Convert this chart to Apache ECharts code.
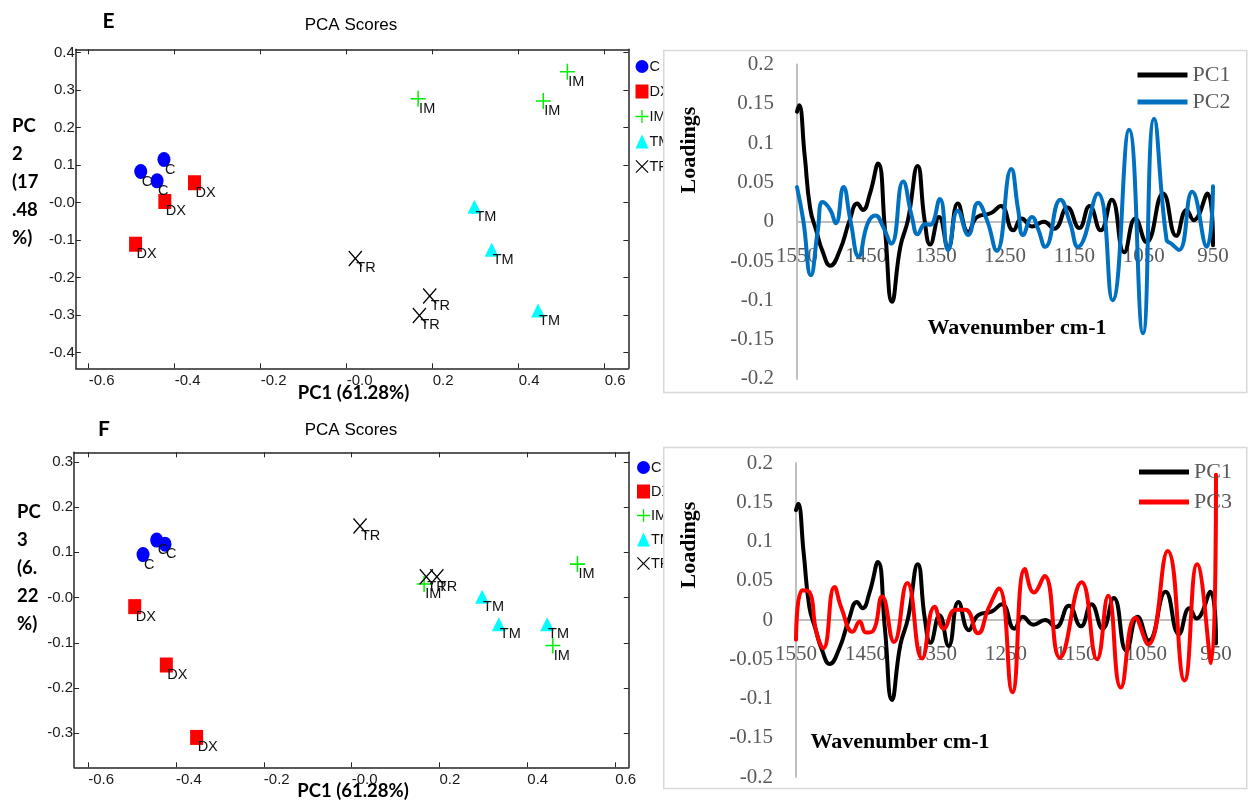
<!DOCTYPE html>
<html><head><meta charset="utf-8">
<script src="https://cdn.jsdelivr.net/npm/echarts@6/dist/echarts.min.js"></script>
<style>
html,body{margin:0;padding:0;background:#fff;width:1248px;height:802px;overflow:hidden;}
#left{position:absolute;left:0;top:0;width:663px;height:802px;}
#right{position:absolute;left:663px;top:0;width:585px;height:802px;}
</style></head><body>
<div id="left"></div><div id="right"></div>
<script>
// ---------------- DATA ----------------
const GROUPS = ['C', 'DX', 'IM', 'TM', 'TR'];

// Panel E: PCA scores PC1 vs PC2
const E_C  = [[-0.479, 0.083], [-0.425, 0.115], [-0.441, 0.058]];
const E_DX = [[-0.354, 0.053], [-0.423, 0.003], [-0.491, -0.111]];
const E_IM = [[0.166, 0.277], [0.457, 0.271], [0.513, 0.349]];
const E_TM = [[0.297, -0.011], [0.337, -0.126], [0.445, -0.288]];
const E_TR = [[0.020, -0.149], [0.193, -0.249], [0.169, -0.301]];

// Panel F: PCA scores PC1 vs PC3
const F_C  = [[-0.475, 0.095], [-0.444, 0.127], [-0.425, 0.118]];
const F_DX = [[-0.494, -0.020], [-0.422, -0.149], [-0.353, -0.309]];
const F_IM = [[0.165, 0.030], [0.514, 0.074], [0.458, -0.106]];
const F_TM = [[0.297, 0.002], [0.335, -0.059], [0.445, -0.059]];
const F_TR = [[0.019, 0.158], [0.170, 0.046], [0.194, 0.046]];

const SCORE_X_TICKS = [-0.6, -0.4, -0.2, 0, 0.2, 0.4, 0.6];
const E_Y_TICKS = [-0.4, -0.3, -0.2, -0.1, 0, 0.1, 0.2, 0.3, 0.4];
const F_Y_TICKS = [-0.3, -0.2, -0.1, 0, 0.1, 0.2, 0.3];

// Loadings: [wavenumber cm-1, loading]
const PC1_LOAD = [[1550,0.140],[1547,0.148],[1539,0.085],[1531,0.017],[1522,-0.012],[1513,-0.038],[1502,-0.056],[1488,-0.036],[1474,0.002],[1463,0.023],[1455,0.015],[1445,0.035],[1433,0.074],[1423,-0.011],[1413,-0.102],[1401,-0.032],[1390,0.002],[1376,0.071],[1366,0.002],[1358,-0.029],[1345,0.006],[1332,-0.033],[1318,0.023],[1303,-0.013],[1290,0.006],[1270,0.011],[1256,0.020],[1238,-0.011],[1226,0.004],[1211,-0.006],[1194,0.000],[1179,-0.009],[1160,0.018],[1143,-0.008],[1128,0.020],[1112,-0.011],[1096,0.028],[1078,-0.039],[1062,0.004],[1046,-0.026],[1022,0.036],[1003,-0.018],[988,0.015],[978,0.002],[958,0.036],[950,-0.030]];
const PC2_LOAD = [[1550,0.044],[1541,0.002],[1530,-0.068],[1520,-0.011],[1513,0.025],[1502,0.015],[1494,-0.002],[1483,0.044],[1473,0.002],[1461,-0.044],[1448,-0.002],[1437,0.008],[1426,-0.006],[1414,-0.028],[1397,0.051],[1384,0.005],[1376,-0.016],[1365,-0.003],[1358,-0.004],[1344,0.029],[1332,-0.036],[1318,0.014],[1303,-0.017],[1289,0.024],[1276,0.002],[1262,-0.037],[1241,0.067],[1231,0.015],[1224,-0.017],[1211,0.006],[1202,-0.010],[1192,-0.032],[1170,0.028],[1156,-0.002],[1145,-0.032],[1116,0.036],[1095,-0.100],[1071,0.117],[1051,-0.142],[1035,0.131],[1017,-0.023],[1010,-0.028],[999,-0.036],[980,0.038],[959,-0.032],[950,0.045]];
const PC3_LOAD = [[1550,-0.025],[1541,0.038],[1531,0.036],[1521,-0.015],[1511,-0.036],[1495,0.042],[1485,0.015],[1469,-0.015],[1459,-0.002],[1450,-0.016],[1440,-0.014],[1427,0.030],[1410,-0.028],[1391,0.047],[1370,-0.049],[1352,0.017],[1339,-0.011],[1322,0.013],[1308,0.013],[1290,-0.017],[1275,0.015],[1260,0.040],[1241,-0.092],[1223,0.065],[1210,0.035],[1195,0.056],[1173,-0.048],[1142,0.048],[1120,-0.050],[1104,0.031],[1086,-0.086],[1065,0.003],[1047,-0.031],[1019,0.088],[995,-0.077],[977,0.071],[957,-0.055],[950,0.185]];

const WN_MIN = 950, WN_MAX = 1550, WN_STEP = 100; // tick labels 1550, 1450 ... 950

// ---------------- STYLE ----------------
function fontAvailable(name) {
  const c = document.createElement('canvas').getContext('2d');
  const s = 'TMDXIMC mmmWW';
  c.font = "16px monospace"; const a = c.measureText(s).width;
  c.font = "16px '" + name + "', monospace"; const b = c.measureText(s).width;
  return Math.abs(a - b) > 0.5;
}
const NARROW = fontAvailable('Liberation Sans Narrow');
const PT_FONT = NARROW ? "'Liberation Sans Narrow'" : "'Liberation Sans'";
const PT_SIZE = NARROW ? 16 : 14.5;

const PLUS = 'path://M9,0 H11 V9 H20 V11 H11 V20 H9 V11 H0 V9 H9 Z';
const CROSS = 'path://M0,1.3 L1.3,0 L10,8.7 L18.7,0 L20,1.3 L11.3,10 L20,18.7 L18.7,20 L10,11.3 L1.3,20 L0,18.7 L8.7,10 Z';
const GSTYLE = {
  C:  { symbol: 'circle',   size: [13, 15], color: '#0000ff' },
  DX: { symbol: 'rect',     size: [13, 15], color: '#ff0000' },
  IM: { symbol: PLUS,       size: [15, 16], color: '#00ee00' },
  TM: { symbol: 'triangle', size: [14, 14], color: '#00ffff' },
  TR: { symbol: CROSS,      size: [14, 16], color: '#000000' }
};
const AX = '#262626';
const tickFmt = v => Math.abs(v) < 1e-9 ? '-0.0' : v.toFixed(1);

function scoreAxes(gi, xmin, xmax, ymin, ymax, yTicks) {
  const line = { onZero: false, lineStyle: { color: AX, width: 1.5 } };
  const lab = { fontFamily: 'Liberation Sans', fontSize: 15, color: '#1a1a1a' };
  const x = [
    { gridIndex: gi, type: 'value', min: xmin, max: xmax, position: 'bottom', axisLine: line,
      axisTick: { inside: true, length: 5, customValues: SCORE_X_TICKS, lineStyle: { color: AX } },
      axisLabel: Object.assign({ customValues: SCORE_X_TICKS, formatter: tickFmt, align: 'left', margin: 5 }, lab),
      splitLine: { show: false } },
    { gridIndex: gi, type: 'value', min: xmin, max: xmax, position: 'top', axisLine: line,
      axisTick: { inside: true, length: 5, customValues: SCORE_X_TICKS, lineStyle: { color: AX } },
      axisLabel: { show: false }, splitLine: { show: false } }
  ];
  const y = [
    { gridIndex: gi, type: 'value', min: ymin, max: ymax, position: 'left', axisLine: Object.assign({ show: true }, line),
      axisTick: { show: true, inside: true, length: 5, customValues: yTicks, lineStyle: { color: AX } },
      axisLabel: Object.assign({ customValues: yTicks, formatter: tickFmt, margin: 1 }, lab),
      splitLine: { show: false } },
    { gridIndex: gi, type: 'value', min: ymin, max: ymax, position: 'right', axisLine: Object.assign({ show: true }, line),
      axisTick: { show: true, inside: true, length: 5, customValues: yTicks, lineStyle: { color: AX } },
      axisLabel: { show: false }, splitLine: { show: false } }
  ];
  return { x, y };
}

function scoreSeries(gi, sets) {
  return GROUPS.map((g, i) => ({
    type: 'scatter', name: g, xAxisIndex: gi * 2, yAxisIndex: gi * 2,
    data: sets[i], symbol: GSTYLE[g].symbol, symbolSize: GSTYLE[g].size,
    itemStyle: { color: GSTYLE[g].color, opacity: 1 },
    label: { show: true, formatter: '{a}', position: 'inside', align: 'left', verticalAlign: 'middle',
      offset: [1, 10], color: '#111', fontFamily: PT_FONT, fontSize: PT_SIZE, textBorderWidth: 0 },
    silent: true
  }));
}

const eAx = scoreAxes(0, -0.630, 0.655, -0.442, 0.409, E_Y_TICKS);
const fAx = scoreAxes(1, -0.632, 0.631, -0.375, 0.321, F_Y_TICKS);

function txt(text, x, y, font, align, opts) {
  return Object.assign({ type: 'text', x: x, y: y, silent: true,
    style: { text: text, x: 0, y: 0, font: font, fill: '#000', textAlign: align || 'center', align: align || 'center',
      textVerticalAlign: 'middle', verticalAlign: 'middle' } }, opts || {});
}
const BOLD = "bold 18.5px Lato, 'Liberation Sans', sans-serif";
const leftGraphics = [
  txt('E', 108.6, 21, "bold 21px Lato, 'Liberation Sans', sans-serif"),
  txt('PCA Scores', 351, 25, "17px 'Liberation Sans', sans-serif"),
  txt('PC1 (61.28%)', 353.5, 393, BOLD),
  txt('F', 104, 429, "bold 21px Lato, 'Liberation Sans', sans-serif"),
  txt('PCA Scores', 351, 430, "17px 'Liberation Sans', sans-serif"),
  txt('PC1 (61.28%)', 353, 791, BOLD)
];
['PC', '2', '(17', '.48', '%)'].forEach((t, i) => leftGraphics.push(txt(t, 12, 126 + i * 28, BOLD, 'left')));
['PC', '3', '(6.', '22', '%)'].forEach((t, i) => leftGraphics.push(txt(t, 17, 512 + i * 28, BOLD, 'left')));

function scoreLegend(left, top, gap) {
  return { data: GROUPS, orient: 'vertical', left: left, top: top, itemWidth: 13, itemHeight: 14, itemGap: gap,
    selectedMode: false, textStyle: { fontFamily: PT_FONT, fontSize: PT_SIZE, color: '#111', padding: [0, 0, 0, -4] } };
}

const left = echarts.init(document.getElementById('left'), null, { renderer: 'canvas' });
left.setOption({
  animation: false,
  grid: [
    { left: 75.8, top: 49.3, width: 552.6, height: 319 },
    { left: 74.1, top: 452.3, width: 554.7, height: 315 }
  ],
  xAxis: eAx.x.concat(fAx.x),
  yAxis: eAx.y.concat(fAx.y),
  legend: [scoreLegend(630.5, 54, 10), scoreLegend(632, 455, 9)],
  series: scoreSeries(0, [E_C, E_DX, E_IM, E_TM, E_TR]).concat(scoreSeries(1, [F_C, F_DX, F_IM, F_TM, F_TR])),
  graphic: leftGraphics
});

// ---------------- RIGHT: loadings ----------------
const SERIF = "'Liberation Serif', 'Times New Roman', serif";
const GRAY = '#595959';
// main plot axes (line at zero, no x labels)
function loadAxes(gi) {
  return {
    x: { gridIndex: gi, type: 'value', inverse: true, min: WN_MIN, max: WN_MAX, interval: WN_STEP,
      axisLine: { onZero: true, lineStyle: { color: '#bfbfbf', width: 2 } },
      axisTick: { show: false }, axisLabel: { show: false }, splitLine: { show: false } },
    y: { gridIndex: gi, type: 'value', min: -0.2, max: 0.2, interval: 0.05,
      axisLine: { show: true, lineStyle: { color: '#bfbfbf', width: 2 } },
      axisTick: { show: false },
      axisLabel: { margin: 23, fontFamily: SERIF, fontSize: 21, color: GRAY, padding: [6, 0, 0, 0],
        formatter: v => String(parseFloat(v.toFixed(2))) },
      splitLine: { show: false } }
  };
}
// label-only axes on a grid whose bottom edge is the zero line
function labelAxes(gi) {
  return {
    x: { gridIndex: gi, type: 'value', inverse: true, min: WN_MIN, max: WN_MAX, interval: WN_STEP, position: 'bottom',
      axisLine: { show: false, onZero: false }, axisTick: { show: false },
      axisLabel: { margin: 24, fontFamily: SERIF, fontSize: 21, color: GRAY, formatter: v => String(Math.round(v)),
        showMinLabel: true, showMaxLabel: true, hideOverlap: false },
      splitLine: { show: false } },
    y: { gridIndex: gi, type: 'value', min: 0, max: 0.2, show: false }
  };
}
const rE = loadAxes(0), rF = loadAxes(1), lE = labelAxes(2), lF = labelAxes(3);
function lineSeries(gi, name, data, color) {
  return { type: 'line', name: name, xAxisIndex: gi, yAxisIndex: gi, data: data, smooth: 0.5,
    showSymbol: false, symbol: 'none', lineStyle: { color: color, width: 4, cap: 'round', join: 'round' },
    itemStyle: { color: color }, silent: true };
}
function loadLegend(names, left, top, gap) {
  return { data: names, orient: 'vertical', left: left, top: top, icon: 'rect', itemWidth: 50, itemHeight: 5,
    itemGap: gap, selectedMode: false, textStyle: { fontFamily: SERIF, fontSize: 22, color: GRAY } };
}
const TB = "bold 22px 'Liberation Serif', 'Times New Roman', serif";
const right = echarts.init(document.getElementById('right'), null, { renderer: 'canvas' });
right.setOption({
  animation: false,
  grid: [
    { left: 134, top: 64.5, width: 416, height: 314.4 },
    { left: 133, top: 463, width: 420, height: 314 },
    { left: 134, top: 64.5, width: 416, height: 157.2 },
    { left: 133, top: 463, width: 420, height: 157 }
  ],
  xAxis: [rE.x, rF.x, lE.x, lF.x],
  yAxis: [rE.y, rF.y, lE.y, lF.y],
  legend: [loadLegend(['PC1', 'PC2'], 469.5, 59, 5), loadLegend(['PC1', 'PC3'], 471, 456, 8)],
  series: [
    lineSeries(0, 'PC1', PC1_LOAD, '#000000'),
    lineSeries(0, 'PC2', PC2_LOAD, '#0070c0'),
    lineSeries(1, 'PC1', PC1_LOAD, '#000000'),
    lineSeries(1, 'PC3', PC3_LOAD, '#ff0000')
  ],
  graphic: [
    { type: 'rect', silent: true, z: -1, shape: { x: 0.75, y: 50.5, width: 583, height: 342 },
      style: { fill: 'none', stroke: '#d9d9d9', lineWidth: 1.5 } },
    { type: 'rect', silent: true, z: -1, shape: { x: 0.75, y: 447.5, width: 583, height: 341 },
      style: { fill: 'none', stroke: '#d9d9d9', lineWidth: 1.5 } },
    txt('Loadings', 26, 150, TB, 'center', { rotation: Math.PI / 2 }),
    txt('Loadings', 26, 545, TB, 'center', { rotation: Math.PI / 2 }),
    txt('Wavenumber cm-1', 354, 328, TB),
    txt('Wavenumber cm-1', 237, 742, TB)
  ]
});
</script>
</body></html>
